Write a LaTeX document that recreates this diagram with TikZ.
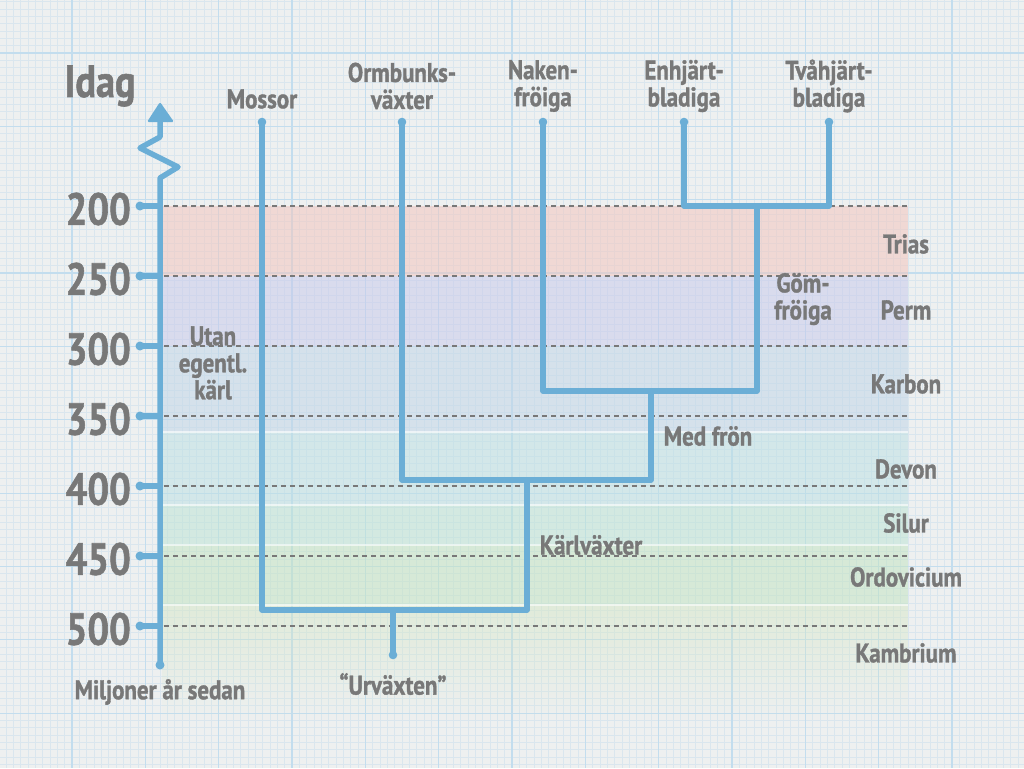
\documentclass[tikz,border=0pt]{standalone}
\usepackage{fontspec}
\usetikzlibrary{fadings}
\newfontfamily\hand{PT Sans}[FakeStretch=0.85, BoldFeatures={FakeBold=1.2}]
\definecolor{bg}{HTML}{EEF0F0}
\definecolor{gridmaj}{HTML}{C3DDEE}
\definecolor{gridmin}{HTML}{DAE6EE}
\definecolor{branch}{HTML}{6BAED6}
\definecolor{txt}{HTML}{787878}
\definecolor{cTrias}{HTML}{F2C6BE}
\definecolor{cPerm}{HTML}{C8CAEC}
\definecolor{cKarbon}{HTML}{C2D6E8}
\definecolor{cDevon}{HTML}{BEE0E4}
\definecolor{cSilur}{HTML}{BEE4D6}
\definecolor{cOrdo}{HTML}{C4E4C4}
\definecolor{cKamb}{HTML}{D4E6C4}
\begin{document}
\begin{tikzpicture}[x=1pt,y=-1pt,
  lbl/.style={font=\hand\bfseries\fontsize{27}{27}\selectfont, text=txt, align=center, inner sep=0pt},
  big/.style={font=\hand\bfseries\fontsize{45}{45}\selectfont, text=txt, inner sep=0pt},
  br/.style={draw=branch, line width=5.5pt, line cap=round, line join=round},
  dotend/.style={fill=branch, draw=none},
  dashline/.style={draw=txt, line width=1.8pt, dash pattern=on 5pt off 4pt},
  band/.style={fill opacity=0.55, draw=none}]
\useasboundingbox (0,0) rectangle (1024,768);
\fill[bg] (0,0) rectangle (1024,768);
% grid
\foreach \i in {0,...,139} \draw[gridmin, line width=0.6pt] ({6+\i*7.333},0) -- ({6+\i*7.333},768);
\foreach \i in {0,...,104} \draw[gridmin, line width=0.6pt] (0,{1.67+\i*7.333}) -- (1024,{1.67+\i*7.333});
\foreach \i in {-1,...,13} \draw[gridmaj, line width=1.2pt] ({72+\i*73.33},0) -- ({72+\i*73.33},768);
\foreach \i in {-1,...,10} \draw[gridmaj, line width=1.2pt] (0,{53+\i*73.35}) -- (1024,{53+\i*73.35});
% bands
\fill[band, cTrias] (162,206) rectangle (908,276);
\fill[band, cPerm] (162,276) rectangle (908,346);
\fill[band, cKarbon] (162,346) rectangle (908,432);
\fill[band, cDevon] (162,432) rectangle (908,505);
\fill[band, cSilur] (162,505) rectangle (908,545);
\fill[band, cOrdo] (162,545) rectangle (908,605);
\fill[band, cKamb, fill opacity=0.5, path fading=south] (162,605) rectangle (908,720);
\foreach \y in {432,505,545,605} \draw[white, line width=1.2pt, opacity=0.6] (162,\y) -- (908,\y);
% dashed lines and ticks
\foreach \y in {206,276,346,416,486,556,626} {
  \draw[dashline] (164,\y) -- (908,\y);
  \draw[br] (140,\y) -- (160,\y);
  \fill[dotend] (140,\y) circle (4.5);
}
% axis
\coordinate (axB) at (160,665);
\coordinate (axW1) at (160,178);
\coordinate (axW2) at (178,167);
\coordinate (axW3) at (140,148);
\coordinate (axW4) at (160,137);
\coordinate (axT) at (160,118);
\draw[br] (axB) -- (axW1) -- (axW2) -- (axW3) -- (axW4) -- (axT);
\fill[dotend] (axB) circle (4.5);
\fill[branch, rounded corners=1.5pt] (147,122) -- (160,102) -- (174,122) -- cycle;
% axis labels
\node[big, anchor=center] (idag) at (100,86) {Idag};
\node[big, anchor=east] (n200) at (131,209) {200};
\node[big, anchor=east] (n250) at (131,279) {250};
\node[big, anchor=east] (n300) at (131,349) {300};
\node[big, anchor=east] (n350) at (131,419) {350};
\node[big, anchor=east] (n400) at (131,489) {400};
\node[big, anchor=east] (n450) at (131,559) {450};
\node[big, anchor=east] (n500) at (131,629) {500};
\node[lbl] (mil) at (160,692) {Miljoner år sedan};
% tree coordinates
\coordinate (mTop) at (262,122);
\coordinate (oTop) at (402,122);
\coordinate (nTop) at (543,122);
\coordinate (eTop) at (684,122);
\coordinate (tTop) at (829,122);
\coordinate (eJ) at (684,206);
\coordinate (tJ) at (829,206);
\coordinate (gJ) at (757,206);
\coordinate (gB) at (757,391);
\coordinate (nB) at (543,391);
\coordinate (fJ) at (651,391);
\coordinate (fB) at (651,480);
\coordinate (oB) at (402,480);
\coordinate (kJ) at (527,480);
\coordinate (kB) at (527,610);
\coordinate (mB) at (262,610);
\coordinate (uJ) at (393,610);
\coordinate (uE) at (393,655);
\draw[br] (eTop) -- (eJ) -- (tJ) -- (tTop);
\draw[br] (gJ) -- (gB) -- (nB) -- (nTop);
\draw[br] (fJ) -- (fB) -- (oB) -- (oTop);
\draw[br] (kJ) -- (kB) -- (mB) -- (mTop);
\draw[br] (uJ) -- (uE);
\foreach \c in {mTop,oTop,nTop,eTop,tTop,uE} \fill[dotend] (\c) circle (4.3);
% top labels
\node[lbl] (mossor) at (262,99) {Mossor};
\node[lbl] (ormb) at (402,86) {Ormbunks-\\växter};
\node[lbl] (naken) at (543,86) {Naken-\\fröiga};
\node[lbl] (enhj) at (684,86) {Enhjärt-\\bladiga};
\node[lbl] (tvahj) at (829,86) {Tvåhjärt-\\bladiga};
% clade labels
\node[lbl] (utan) at (213,363) {Utan\\egentl.\\kärl};
\node[lbl] (gom) at (803,299) {Göm-\\fröiga};
\node[lbl] (medfron) at (708,436) {Med frön};
\node[lbl] (karl) at (591,545) {Kärlväxter};
\node[lbl] (urv) at (393,684) {“Urväxten”};
% periods
\node[lbl] (trias) at (906,244) {Trias};
\node[lbl] (perm) at (906,310) {Perm};
\node[lbl] (karbon) at (906,384) {Karbon};
\node[lbl] (devon) at (906,469) {Devon};
\node[lbl] (silur) at (906,523) {Silur};
\node[lbl] (ordo) at (906,577) {Ordovicium};
\node[lbl] (kamb) at (906,653) {Kambrium};
\end{tikzpicture}
\end{document}
